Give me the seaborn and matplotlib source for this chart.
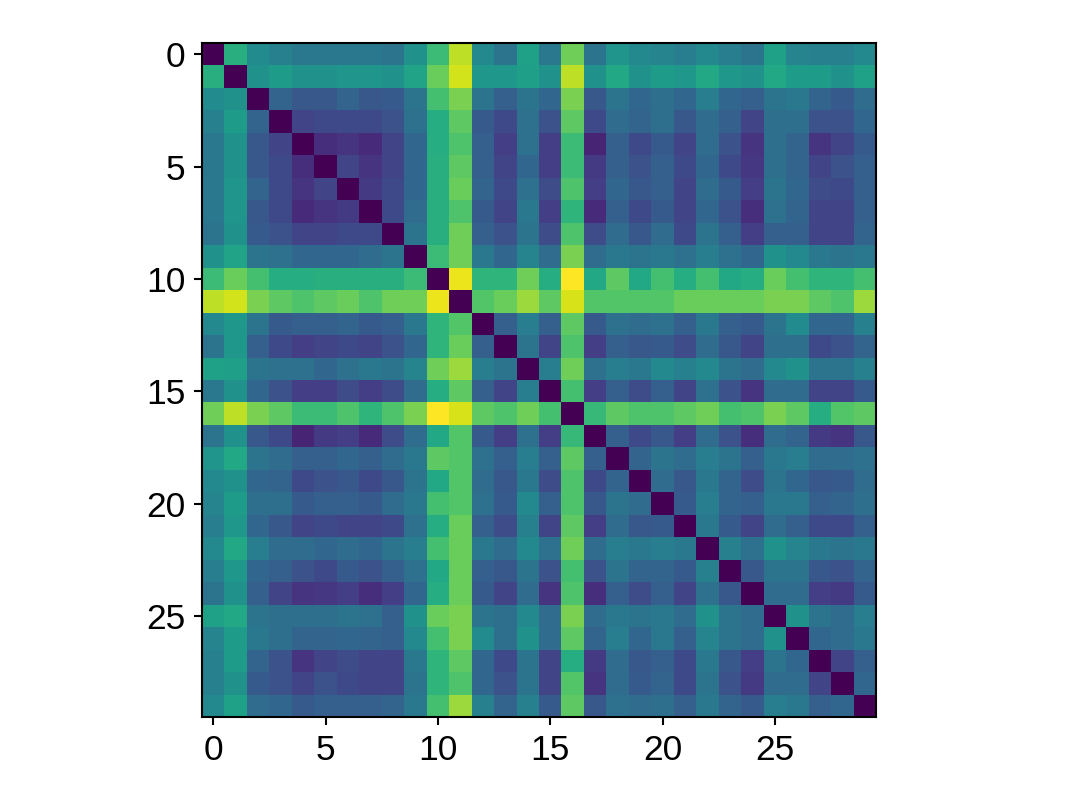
import numpy as np
import matplotlib
matplotlib.use("Agg")
import matplotlib.pyplot as plt
import seaborn as sns

# Upper-triangle distances: row i holds values for columns i+1 .. 29
d00 = [0.63, 0.48, 0.43, 0.40, 0.40, 0.40, 0.40, 0.38, 0.50, 0.68, 0.90, 0.47, 0.38, 0.57,
       0.40, 0.78, 0.38, 0.52, 0.47, 0.45, 0.42, 0.47, 0.42, 0.38, 0.57, 0.45, 0.43, 0.43, 0.47]
d01 = [0.50, 0.55, 0.50, 0.50, 0.52, 0.52, 0.50, 0.58, 0.77, 0.93, 0.53, 0.53, 0.56,
       0.50, 0.90, 0.50, 0.60, 0.50, 0.55, 0.53, 0.60, 0.53, 0.50, 0.60, 0.55, 0.55, 0.50, 0.57]
d02 = [0.32, 0.27, 0.27, 0.32, 0.27, 0.28, 0.38, 0.70, 0.80, 0.38, 0.30, 0.38,
       0.33, 0.80, 0.27, 0.38, 0.33, 0.36, 0.33, 0.42, 0.33, 0.30, 0.38, 0.40, 0.32, 0.28, 0.35]
d03 = [0.20, 0.22, 0.22, 0.22, 0.25, 0.37, 0.62, 0.75, 0.28, 0.22, 0.37,
       0.25, 0.75, 0.22, 0.35, 0.32, 0.36, 0.27, 0.35, 0.30, 0.20, 0.36, 0.36, 0.25, 0.25, 0.33]
d04 = [0.13, 0.15, 0.12, 0.20, 0.33, 0.62, 0.72, 0.30, 0.18, 0.37,
       0.18, 0.68, 0.10, 0.30, 0.22, 0.28, 0.20, 0.35, 0.25, 0.15, 0.36, 0.32, 0.15, 0.20, 0.28]
d05 = [0.20, 0.15, 0.20, 0.33, 0.63, 0.75, 0.30, 0.20, 0.33,
       0.18, 0.68, 0.17, 0.30, 0.25, 0.30, 0.22, 0.33, 0.22, 0.16, 0.36, 0.32, 0.20, 0.25, 0.30]
d06 = [0.17, 0.22, 0.33, 0.63, 0.77, 0.32, 0.22, 0.37,
       0.23, 0.72, 0.18, 0.33, 0.27, 0.30, 0.20, 0.35, 0.28, 0.18, 0.38, 0.33, 0.23, 0.22, 0.30]
d07 = [0.22, 0.35, 0.63, 0.72, 0.28, 0.20, 0.40,
       0.18, 0.65, 0.12, 0.30, 0.22, 0.28, 0.20, 0.33, 0.25, 0.13, 0.37, 0.32, 0.20, 0.20, 0.30]
d08 = [0.38, 0.63, 0.78, 0.30, 0.25, 0.38,
       0.23, 0.72, 0.23, 0.35, 0.27, 0.35, 0.22, 0.38, 0.30, 0.18, 0.30, 0.30, 0.20, 0.20, 0.32]
d09 = [0.68, 0.78, 0.40, 0.33, 0.45,
       0.35, 0.80, 0.35, 0.40, 0.38, 0.40, 0.37, 0.42, 0.37, 0.33, 0.50, 0.47, 0.40, 0.38, 0.40]
d10 = [0.97, 0.65, 0.65, 0.78,
       0.62, 1.00, 0.60, 0.75, 0.60, 0.70, 0.62, 0.70, 0.60, 0.62, 0.77, 0.70, 0.65, 0.65, 0.70]
d11 = [0.73, 0.77, 0.85,
       0.75, 0.94, 0.73, 0.73, 0.73, 0.73, 0.77, 0.77, 0.77, 0.77, 0.80, 0.80, 0.75, 0.72, 0.85]
d12 = [0.30, 0.42,
       0.30, 0.75, 0.28, 0.37, 0.35, 0.37, 0.30, 0.40, 0.30, 0.28, 0.38, 0.48, 0.33, 0.33, 0.43]
d13 = [0.38,
       0.20, 0.72, 0.18, 0.30, 0.27, 0.28, 0.23, 0.35, 0.27, 0.20, 0.36, 0.36, 0.22, 0.25, 0.32]
d14 = [0.42, 0.78, 0.37, 0.42, 0.40, 0.47, 0.43, 0.47, 0.38, 0.35, 0.47, 0.50, 0.38, 0.38, 0.43]
d15 = [0.70, 0.18, 0.30, 0.23, 0.30, 0.20, 0.37, 0.25, 0.15, 0.35, 0.35, 0.20, 0.20, 0.28]
d16 = [0.67, 0.75, 0.72, 0.72, 0.75, 0.78, 0.70, 0.72, 0.80, 0.75, 0.62, 0.73, 0.75]
d17 = [0.30, 0.22, 0.27, 0.18, 0.35, 0.25, 0.13, 0.35, 0.32, 0.17, 0.15, 0.27]
d18 = [0.32, 0.38, 0.35, 0.42, 0.38, 0.30, 0.40, 0.42, 0.35, 0.35, 0.37]
d19 = [0.35, 0.27, 0.40, 0.32, 0.23, 0.38, 0.33, 0.27, 0.28, 0.35]
d20 = [0.28, 0.42, 0.32, 0.30, 0.40, 0.40, 0.30, 0.32, 0.36]
d21 = [0.40, 0.28, 0.20, 0.35, 0.30, 0.22, 0.22, 0.30]
d22 = [0.43, 0.37, 0.50, 0.45, 0.40, 0.38, 0.40]
d23 = [0.27, 0.38, 0.38, 0.27, 0.25, 0.32]
d24 = [0.35, 0.35, 0.18, 0.17, 0.28]
d25 = [0.50, 0.38, 0.35, 0.42]
d26 = [0.33, 0.35, 0.40]
d27 = [0.20, 0.30]
d28 = [0.33]

tick_positions = [0, 5, 10, 15, 20, 25]
tick_labels = ["0", "5", "10", "15", "20", "25"]

upper = [d00, d01, d02, d03, d04, d05, d06, d07, d08, d09, d10, d11, d12, d13, d14,
         d15, d16, d17, d18, d19, d20, d21, d22, d23, d24, d25, d26, d27, d28]
n = len(upper) + 1
M = np.zeros((n, n))
for i, row in enumerate(upper):
    M[i, i + 1:] = row
M = M + M.T

sns.set_theme(style="white")
plt.rcParams['font.family'] = ['Liberation Sans', 'DejaVu Sans']

fig = plt.figure(figsize=(1079 / 150, 809 / 150), dpi=150)
ax = fig.add_axes([202 / 1079, 1 - 717 / 809, 674 / 1079, 674 / 809])
sns.heatmap(M, ax=ax, cmap="viridis", vmin=0, vmax=1, cbar=False, square=True,
            xticklabels=False, yticklabels=False)

ax.set_xticks([p + 0.5 for p in tick_positions])
ax.set_xticklabels(tick_labels, rotation=0)
ax.set_yticks([p + 0.5 for p in tick_positions])
ax.set_yticklabels(tick_labels, rotation=0)
ax.tick_params(axis="both", which="both", direction="out", length=4, width=1,
               labelsize=17, color="black", labelcolor="black",
               bottom=True, left=True, pad=4)
for s in ax.spines.values():
    s.set_visible(True)
    s.set_color("black")
    s.set_linewidth(1.0)

fig.savefig("out.png", dpi=150, facecolor="white")
